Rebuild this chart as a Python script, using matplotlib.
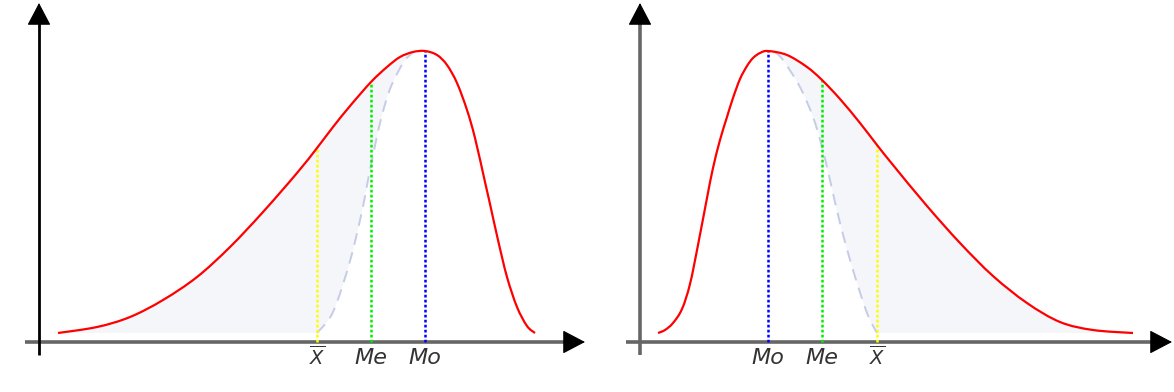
import numpy as np
import matplotlib
matplotlib.use("Agg")
import matplotlib.pyplot as plt
from matplotlib.path import Path
from matplotlib.patches import PathPatch

# ---------- data (x from y-axis, y above x-axis) ----------
# left panel: negatively skewed
left_x = [19, 58, 91, 124, 158, 191, 224, 258, 278, 294, 311, 332, 348, 361, 374, 386,
          398, 408, 418, 428, 436, 446, 451, 459, 468, 478, 488, 496]
left_y = [9, 15, 25, 42, 65, 95, 130, 169, 194, 215, 236, 260, 275, 285, 290, 291,
          287, 277, 259, 232, 204, 160, 138, 102, 65, 35, 16, 9]
left_dash_x = [278, 294, 311, 323, 331, 341, 351, 364, 371, 374]
left_dash_y = [9, 30, 81, 131, 172, 219, 253, 279, 287, 290]

# right panel: positively skewed
right_x = [18, 25, 33, 42, 50, 58, 67, 73, 80, 87, 93, 100, 107, 113, 120, 128,
           147, 167, 182, 200, 220, 237, 253, 287, 320, 353, 387, 420, 453, 493]
right_y = [9, 12, 19, 33, 58, 97, 144, 174, 202, 225, 244, 263, 276, 284, 289, 291,
           287, 275, 262, 243, 219, 197, 177, 136, 99, 66, 39, 20, 12, 9]
right_dash_x = [135, 143, 160, 173, 182, 190, 200, 213, 227, 237]
right_dash_y = [290, 282, 255, 225, 195, 162, 119, 72, 29, 9]

# markers: mean, median, mode
left_marks = {"mean": (278, 194), "median": (332, 260), "mode": (386, 291)}
right_marks = {"mode": (128, 291), "median": (182, 262), "mean": (237, 197)}
labels = {"mean": r"$\overline{X}$", "median": "Me", "mode": "Mo"}
label_sizes = {"mean": 14, "median": 16, "mode": 16}
mark_colors = {"mean": "#ffff00", "median": "#00ee00", "mode": "#0000ff"}

CURVE = "#ff0000"
FILL = "#f4f6fa"
DASH = "#c5cce6"
AXGREY = "#666666"
TXT = "#333333"

fig = plt.figure(figsize=(11.74, 3.92), dpi=100)
W = 1174.0


def smooth(xs, ys):
    # Catmull-Rom through the read points, drawn as cubic Bezier segments
    p = np.column_stack([xs, ys]).astype(float)
    verts = [p[0]]
    codes = [Path.MOVETO]
    for i in range(len(p) - 1):
        p0 = p[i - 1] if i > 0 else p[i]
        p3 = p[i + 2] if i + 2 < len(p) else p[i + 1]
        c1 = p[i] + (p[i + 1] - p0) / 6.0
        c2 = p[i + 1] - (p3 - p[i]) / 6.0
        verts += [c1, c2, p[i + 1]]
        codes += [Path.CURVE4] * 3
    return verts, codes


def arrow_head(ax, tip, back):
    ax.annotate("", xy=tip, xytext=back,
                arrowprops=dict(arrowstyle="-|>,head_length=0.8,head_width=0.42",
                                color="black", lw=0.8, shrinkA=0, shrinkB=0,
                                mutation_scale=18),
                annotation_clip=False)


def panel(left_px, width_px, origin_px, cx, cy, dx, dy, marks, yaxis_col, xend, fill_side):
    ax = fig.add_axes([left_px / W, 0, width_px / W, 1])
    ax.set_xlim(-origin_px, width_px - origin_px)
    ax.set_ylim(-50, 342)
    ax.axis("off")

    # shaded asymmetry area
    cx_a, cy_a = np.array(cx), np.array(cy)
    if fill_side == "left":
        top = cx_a <= dx[-1]
        v1, c1 = smooth(cx_a[top], cy_a[top])
        v2, c2 = smooth(dx[::-1], dy[::-1])
        verts = v1 + v2 + [(cx[0], cy[0]), (cx[0], cy[0])]
        codes = c1 + [Path.LINETO] + c2[1:] + [Path.LINETO, Path.CLOSEPOLY]
    else:
        top = cx_a >= dx[0]
        v1, c1 = smooth(dx, dy)
        v2, c2 = smooth(cx_a[top][::-1], cy_a[top][::-1])
        verts = v1 + v2 + [(dx[0], dy[0])]
        codes = c1 + [Path.LINETO] + c2[1:] + [Path.CLOSEPOLY]
    ax.add_patch(PathPatch(Path(verts, codes), facecolor=FILL, lw=0, zorder=1))

    # axes lines
    ax.plot([-14, xend - 18], [0, 0], color=AXGREY, lw=2.6, zorder=2,
            solid_capstyle="butt")
    ax.plot([0, 0], [-13, 339 - 18], color=yaxis_col, lw=2.0 if yaxis_col == "black" else 2.6,
            zorder=2, solid_capstyle="butt")
    arrow_head(ax, (xend, 0), (xend - 20, 0))
    arrow_head(ax, (0, 339), (0, 319))

    v, c = smooth(dx, dy)
    ax.add_patch(PathPatch(Path(v, c), fill=False, edgecolor=DASH, lw=1.4,
                           linestyle=(0, (6, 4)), zorder=3))

    for key, (mx, my) in marks.items():
        ax.plot([mx, mx], [0, my], color=mark_colors[key], lw=1.8,
                dashes=(1.1, 0.9), zorder=4)
        ax.text(mx, -23 if key == "mean" else -22, labels[key], ha="center",
                va="baseline", fontsize=label_sizes[key], style="italic",
                color=TXT, zorder=5)

    v, c = smooth(cx, cy)
    ax.add_patch(PathPatch(Path(v, c), fill=False, edgecolor=CURVE, lw=1.6,
                           joinstyle="round", zorder=6))
    return ax


panel(0, 587, 39, left_x, left_y, left_dash_x, left_dash_y, left_marks,
      "black", 546, "left")
panel(587, 587, 53, right_x, right_y, right_dash_x, right_dash_y, right_marks,
      AXGREY, 532, "right")

fig.savefig("out.png", dpi=100)
